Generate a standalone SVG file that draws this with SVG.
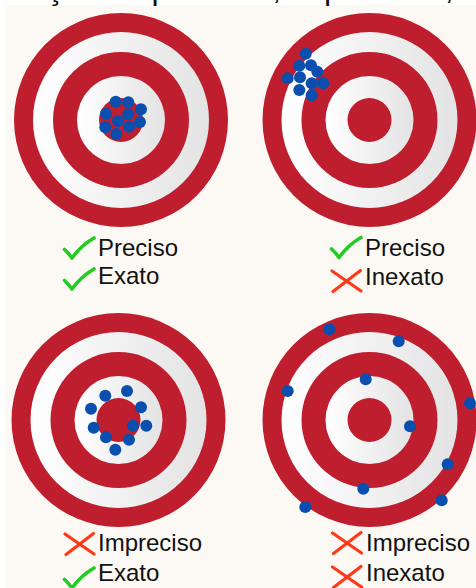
<svg xmlns="http://www.w3.org/2000/svg" xmlns:xlink="http://www.w3.org/1999/xlink" width="476" height="588" viewBox="0 0 476 588">
<style>
.red{fill:#be1e2d}
.wht{fill:url(#wg)}
.dot{fill:#0a4fae}
.lbl{font-family:"Liberation Sans",Arial,sans-serif;font-size:24px;fill:#111}
.cap{font-family:"Liberation Sans",Arial,sans-serif;font-size:32px;fill:#111}
.ok{fill:none;stroke:#22cc22;stroke-width:3.6;stroke-linecap:round;stroke-linejoin:round}
.no{fill:none;stroke:#ff3a1a;stroke-width:3.2;stroke-linecap:round}
</style>
<defs>
<linearGradient id="wg" x1="0" y1="0" x2="1" y2="0">
<stop offset="0" stop-color="#ffffff"/>
<stop offset="1" stop-color="#e3e3e3"/>
</linearGradient>
<g id="target">
<circle r="107" class="red"/>
<circle r="88" class="wht"/>
<circle r="68" class="red"/>
<circle r="44" class="wht"/>
<circle r="22" class="red"/>
</g>
<path id="chk" class="ok" d="M1.5,13 Q5.5,16.5 9,21.5 Q18,9 31,1.5"/>
<path id="crs" class="no" d="M2,2 L31,22 M30.5,1.5 L3,22.5"/>
</defs>
<rect width="476" height="588" fill="#ffffff"/>
<rect x="5" y="5" width="471" height="583" fill="#fcf9f4"/>
<text class="cap" x="-119" y="-1.5">Representação de precisão, imprecisão, exatidão e inexatidão</text>

<g id="target-precise-exact">
<use xlink:href="#target" x="121" y="120"/>
<circle class="dot" cx="115.7" cy="101.7" r="6"/>
<circle class="dot" cx="128.3" cy="102.3" r="6"/>
<circle class="dot" cx="141" cy="109.3" r="6"/>
<circle class="dot" cx="106" cy="113.7" r="6"/>
<circle class="dot" cx="128.3" cy="114.3" r="6"/>
<circle class="dot" cx="118" cy="121" r="6"/>
<circle class="dot" cx="140" cy="122" r="6"/>
<circle class="dot" cx="105.3" cy="127.3" r="6"/>
<circle class="dot" cx="129" cy="126.7" r="6"/>
<circle class="dot" cx="116.3" cy="134" r="6"/>
</g>

<g id="target-precise-inexact">
<use xlink:href="#target" x="369.5" y="120"/>
<circle class="dot" cx="305.7" cy="53.7" r="6"/>
<circle class="dot" cx="299.3" cy="65.7" r="6"/>
<circle class="dot" cx="311" cy="65.3" r="6"/>
<circle class="dot" cx="317.3" cy="71.7" r="6"/>
<circle class="dot" cx="287.7" cy="78.3" r="6"/>
<circle class="dot" cx="300" cy="77.3" r="6"/>
<circle class="dot" cx="311.7" cy="83.3" r="6"/>
<circle class="dot" cx="323.3" cy="83.3" r="6"/>
<circle class="dot" cx="299.3" cy="90" r="6"/>
<circle class="dot" cx="311.7" cy="95.3" r="6"/>
</g>

<g id="target-imprecise-exact">
<use xlink:href="#target" x="118.5" y="420"/>
<circle class="dot" cx="127" cy="391" r="6"/>
<circle class="dot" cx="105.3" cy="395.7" r="6"/>
<circle class="dot" cx="91" cy="408.7" r="6"/>
<circle class="dot" cx="141" cy="407.3" r="6"/>
<circle class="dot" cx="93.7" cy="427.7" r="6"/>
<circle class="dot" cx="133" cy="425.7" r="6"/>
<circle class="dot" cx="146.3" cy="425.7" r="6"/>
<circle class="dot" cx="106" cy="437.3" r="6"/>
<circle class="dot" cx="129" cy="439.7" r="6"/>
<circle class="dot" cx="115.3" cy="449.7" r="6"/>
</g>

<g id="target-imprecise-inexact">
<use xlink:href="#target" x="369.5" y="420"/>
<circle class="dot" cx="329.3" cy="329.3" r="6"/>
<circle class="dot" cx="398.7" cy="341.3" r="6"/>
<circle class="dot" cx="287.7" cy="391" r="6"/>
<circle class="dot" cx="365.7" cy="379.3" r="6"/>
<circle class="dot" cx="470" cy="403.3" r="6"/>
<circle class="dot" cx="410" cy="426.3" r="6"/>
<circle class="dot" cx="447.7" cy="464.3" r="6"/>
<circle class="dot" cx="363.3" cy="488.7" r="6"/>
<circle class="dot" cx="305.3" cy="507" r="6"/>
<circle class="dot" cx="441.7" cy="500.3" r="6"/>
</g>

<g id="label-precise-exact">
<use xlink:href="#chk" x="63" y="236.5"/>
<text class="lbl" x="98" y="256">Preciso</text>
<use xlink:href="#chk" x="63" y="267.5"/>
<text class="lbl" x="98" y="284">Exato</text>
</g>

<g id="label-precise-inexact">
<use xlink:href="#chk" x="330" y="236"/>
<text class="lbl" x="365" y="256">Preciso</text>
<use xlink:href="#crs" x="330" y="269"/>
<text class="lbl" x="365" y="285">Inexato</text>
</g>

<g id="label-imprecise-exact">
<use xlink:href="#crs" x="63" y="532"/>
<text class="lbl" x="98" y="551">Impreciso</text>
<use xlink:href="#chk" x="63" y="566.5"/>
<text class="lbl" x="98" y="581">Exato</text>
</g>

<g id="label-imprecise-inexact">
<use xlink:href="#crs" x="330.5" y="531"/>
<text class="lbl" x="366" y="551">Impreciso</text>
<use xlink:href="#crs" x="330.5" y="565"/>
<text class="lbl" x="366" y="581">Inexato</text>
</g>
</svg>
